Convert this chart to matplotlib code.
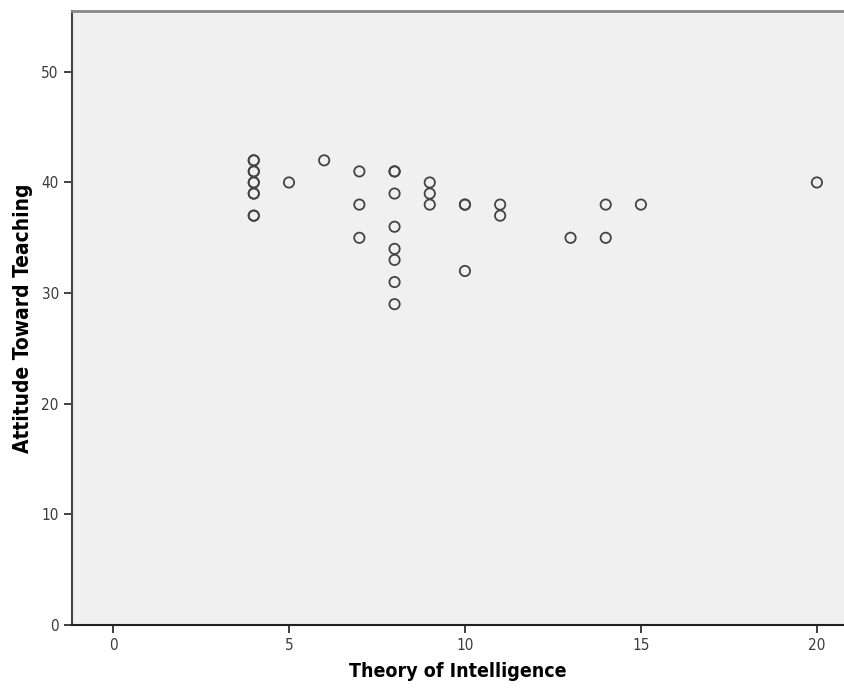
import numpy as np
import matplotlib.pyplot as plt

# Theory of Intelligence vs Attitude Toward Teaching (duplicates drawn twice -> darker rings)
theory = [4, 4, 4, 4, 4, 4, 4, 4, 4, 4, 5, 6, 7, 7, 7,
          8, 8, 8, 8, 8, 8, 8, 8, 9, 9, 9, 10, 10, 10,
          11, 11, 13, 14, 14, 15, 20]
attitude = [42, 42, 41, 41, 40, 40, 39, 39, 37, 37, 40, 42, 41, 38, 35,
            41, 41, 39, 36, 34, 33, 31, 29, 40, 39, 38, 38, 38, 32,
            38, 37, 35, 38, 35, 38, 40]

x_ticks = [0, 5, 10, 15, 20]
y_ticks = [0, 10, 20, 30, 40, 50]

fig = plt.figure(figsize=(8.44, 6.88), dpi=100)
ax = fig.add_axes([72/844, 63/688, 772/844, 614/688])
ax.set_facecolor('#f0f0f0')

ax.scatter(theory, attitude, s=55, facecolors='none', edgecolors='#444444',
           linewidths=1.3, zorder=3)

ax.set_xlim(-1.165, 20.77)
ax.set_ylim(0, 55.5)
ax.set_xticks(x_ticks)
ax.set_yticks(y_ticks)

ax.spines['right'].set_visible(False)
ax.spines['top'].set_color('#888888')
ax.spines['top'].set_linewidth(2)
ax.spines['left'].set_color('#444444')
ax.spines['left'].set_linewidth(1.5)
ax.spines['bottom'].set_color('#222222')
ax.spines['bottom'].set_linewidth(1.5)

ax.tick_params(axis='both', direction='out', length=6, width=1.3,
               color='#333333', labelcolor='#3a3a3a', labelsize=11)
for lab in ax.get_xticklabels() + ax.get_yticklabels():
    lab.set_fontstretch('condensed')

ax.set_xlabel("Theory of Intelligence", fontsize=14, fontweight='bold',
              fontstretch='condensed', labelpad=6)
ax.set_ylabel("Attitude Toward Teaching", fontsize=15, fontweight='bold',
              fontstretch='condensed', labelpad=6)

fig.savefig("out.png", dpi=100)
